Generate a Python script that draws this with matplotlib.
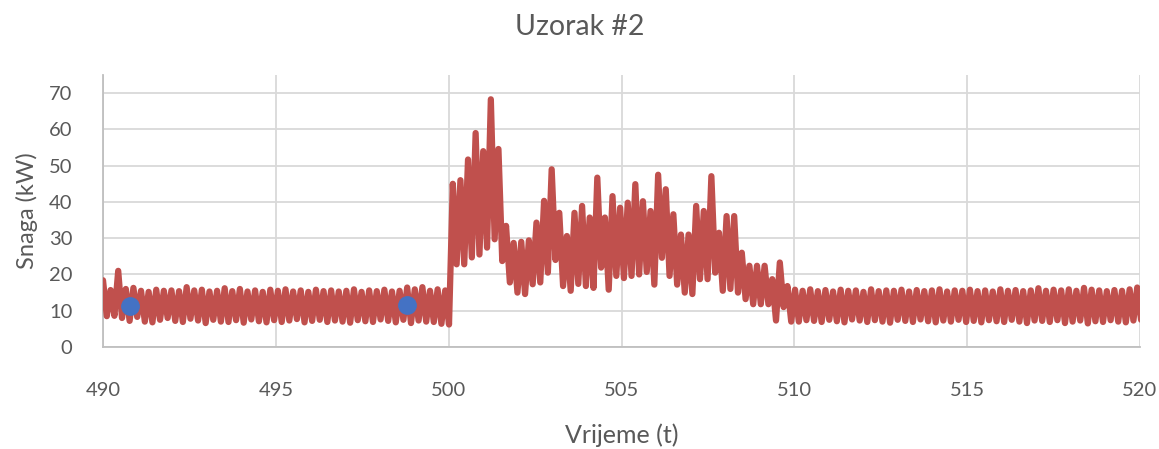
import numpy as np
import matplotlib
matplotlib.use("Agg")
import matplotlib.pyplot as plt

# ---- data ----
title = "Uzorak #2"
x_label = "Vrijeme (t)"
y_label = "Snaga (kW)"
x_ticks = [490, 495, 500, 505, 510, 515, 520]
y_ticks = [0, 10, 20, 30, 40, 50, 60, 70]

t_start = 490.0
t_step = 0.11

# peaks / troughs before the event (490 - 500)
pre_highs = [18.4, 15.7, 21.0, 16.0, 16.3, 15.5, 15.2, 15.8, 15.5, 15.6, 15.4, 16.5,
             15.6, 15.8, 15.3, 15.5, 16.2, 15.4, 16.0, 15.3, 15.6, 15.2, 15.8, 15.5,
             15.9, 15.3, 15.6, 15.2, 15.8, 15.4, 15.6, 15.3, 15.5, 15.9, 15.2, 15.6,
             15.4, 15.8, 15.3, 15.5, 16.4, 15.9, 16.5, 15.5, 15.9, 15.6]
pre_lows = [8.5, 8.6, 8.0, 7.2, 8.3, 7.0, 6.8, 7.5, 8.0, 7.2, 6.9, 7.8,
            7.3, 6.6, 7.5, 7.0, 6.9, 7.4, 6.7, 7.6, 7.1, 6.8, 7.4, 6.9,
            7.3, 7.7, 6.8, 7.2, 7.5, 6.9, 7.3, 7.0, 6.7, 7.4, 7.1, 6.9,
            7.6, 7.2, 6.8, 7.5, 6.6, 7.3, 7.0, 6.9, 6.4, 6.2]

# peaks / troughs during the event (500 - 510)
event_highs = [45.0, 46.0, 51.7, 59.0, 54.0, 68.3, 54.6, 33.4, 28.7, 29.0, 29.4, 34.3,
               40.3, 49.0, 37.0, 30.6, 37.0, 38.9, 35.7, 46.7, 35.7, 41.6, 38.4, 39.8,
               44.9, 40.2, 37.5, 47.5, 43.5, 36.6, 31.0, 31.0, 38.9, 37.5, 47.1, 31.5,
               36.1, 36.1, 26.0, 22.4, 22.4, 22.4, 18.7, 23.3, 16.8]
event_lows = [22.8, 22.8, 24.7, 25.5, 27.4, 29.7, 23.7, 17.8, 15.0, 14.6, 17.3, 17.8,
              20.5, 24.0, 16.8, 15.5, 17.4, 16.8, 16.3, 21.9, 15.8, 19.6, 19.0, 19.6,
              20.0, 20.7, 17.2, 24.6, 19.6, 17.2, 15.0, 14.6, 18.7, 18.7, 20.5, 15.5,
              16.0, 15.0, 13.2, 11.8, 11.8, 11.8, 7.3, 11.0, 7.0]

# peaks / troughs after the event (510 - 520)
post_highs = [15.8, 15.5, 15.9, 15.4, 15.7, 15.3, 15.8, 15.5, 15.6, 15.2, 15.9, 15.4,
              15.6, 15.5, 15.8, 15.3, 15.7, 15.4, 15.6, 15.9, 15.3, 15.6, 15.5, 15.8,
              15.4, 15.6, 15.3, 15.9, 15.5, 15.7, 15.4, 15.6, 16.2, 15.5, 15.8, 15.6,
              15.9, 15.5, 16.3, 15.8, 15.6, 15.4, 15.7, 15.5, 15.9, 16.4]
post_lows = [7.0, 7.4, 7.2, 6.9, 7.5, 7.1, 6.8, 7.6, 7.3, 6.9, 7.4, 7.0,
             6.7, 7.5, 7.2, 6.9, 7.6, 7.1, 6.8, 7.3, 7.0, 7.5, 6.9, 7.2,
             6.8, 7.4, 7.1, 6.9, 7.5, 7.0, 6.6, 7.3, 7.2, 6.9, 7.4, 6.6,
             7.0, 7.3, 6.5, 7.1, 6.9, 7.4, 7.0, 6.8, 7.3, 7.5]

highlight_t = [490.78, 498.8]
highlight_v = [11.3, 11.7]

# ---- assemble series ----
highs = pre_highs + event_highs + post_highs
lows = pre_lows + event_lows + post_lows
values = np.empty(2 * len(highs))
values[0::2] = highs
values[1::2] = lows
t = t_start + t_step * np.arange(len(values))

plt.rcParams['font.family'] = ['Lato', 'DejaVu Sans']
text_color = "#595959"
grid_color = "#D9D9D9"

fig = plt.figure(figsize=(11.59, 4.49), dpi=100)
ax = fig.add_axes([103 / 1159, 1 - 347 / 449, (1140 - 103) / 1159, (347 - 75) / 449])

ax.plot(t, values, color="#C0504D", linewidth=4.5, solid_joinstyle="round",
        solid_capstyle="round", zorder=3)
ax.plot(highlight_t, highlight_v, linestyle="none", marker="o", markersize=12.5,
        color="#4472C4", zorder=4)

ax.set_xlim(490, 520)
ax.set_ylim(0, 75)
ax.set_xticks(x_ticks)
ax.set_yticks(y_ticks)
ax.grid(True, color=grid_color, linewidth=1.3)
ax.set_axisbelow(True)
for s in ["top", "right"]:
    ax.spines[s].set_visible(False)
for s in ["left", "bottom"]:
    ax.spines[s].set_color("#BFBFBF")
    ax.spines[s].set_linewidth(1.3)
ax.tick_params(axis="both", length=0, labelsize=14.5, labelcolor=text_color)
ax.tick_params(axis="x", pad=25)
ax.tick_params(axis="y", pad=22)

ax.set_xlabel(x_label, fontsize=18, color=text_color, labelpad=18)
ax.set_ylabel(y_label, fontsize=17, color=text_color, labelpad=8)
fig.text(0.5, 1 - 27 / 449, title, ha="center", va="center", fontsize=20.5,
         color=text_color)

fig.savefig("out.png", dpi=100)
